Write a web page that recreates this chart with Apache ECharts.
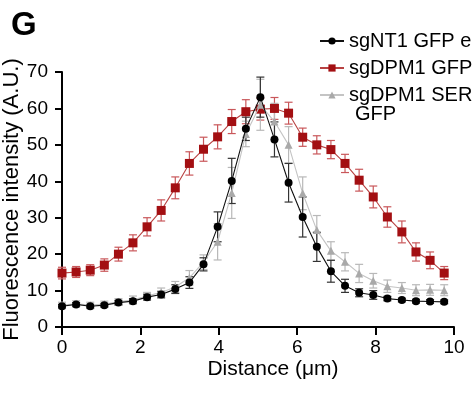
<!DOCTYPE html>
<html><head><meta charset="utf-8">
<script src="https://cdn.jsdelivr.net/npm/echarts@6/dist/echarts.min.js"></script>
<style>html,body{margin:0;padding:0;background:#fff}#c{width:472px;height:396px}</style>
</head><body><div id="c"></div>
<script>
const distance = [0.00,0.36,0.72,1.08,1.44,1.81,2.17,2.53,2.89,3.25,3.61,3.97,4.33,4.69,5.06,5.42,5.78,6.14,6.50,6.86,7.22,7.58,7.94,8.30,8.67,9.03,9.39,9.75];
const ntMean  = [5.7,6.2,5.7,6.0,6.7,7.1,8.2,8.9,10.4,12.2,17.2,27.5,40.1,54.4,63.1,51.5,39.6,30.2,22.0,15.3,11.3,9.4,8.8,7.8,7.4,7.1,7.0,6.9];
const ntErr   = [0.5,0.5,0.5,0.5,0.6,0.7,0.8,0.9,1.2,1.6,1.8,4.1,6.2,3.2,5.5,4.8,5.3,5.5,4.0,3.0,1.8,1.1,1.2,0.6,0.5,0.5,0.5,0.5];
const dpmMean = [14.8,15.1,15.6,17.0,20.0,23.1,27.5,32.0,38.2,44.9,48.8,52.2,56.4,59.1,59.8,60.0,58.7,52.1,50.0,48.7,44.9,40.3,35.7,30.2,26.1,20.6,18.3,14.8];
const dpmErr  = [1.6,1.5,1.5,1.7,1.9,2.2,2.5,2.9,3.0,3.2,3.3,3.3,3.3,3.3,3.0,3.0,3.0,2.5,2.5,2.5,2.5,3.0,3.0,2.8,3.0,2.5,2.3,1.8];
const serMean = [6.0,6.4,6.0,6.3,6.9,7.5,8.5,9.5,11.0,13.5,17.8,23.4,36.8,53.0,61.0,56.4,50.0,36.7,26.6,20.9,17.9,14.7,12.7,11.2,10.7,10.1,10.2,10.1];
const serErr  = [0.8,0.8,0.8,0.8,0.9,1.0,1.0,1.2,1.5,2.0,2.0,5.0,7.0,3.5,7.0,5.0,5.0,4.5,4.0,2.5,2.5,2.5,2.0,1.7,1.5,1.5,1.5,1.5];
const xTicks = [0,2,4,6,8,10];
const yTicks = [0,10,20,30,40,50,60,70];
const seriesNames = ['sgNT1 GFP empty','sgDPM1 GFP empty','sgDPM1 SERINC5'];
const legendSecondLine = 'GFP';

const FONT = 'Liberation Sans, Arial, sans-serif';
function pts(m){ return distance.map((x,i)=>[x,m[i]]); }
function errs(m,e){ return distance.map((x,i)=>[x,m[i]-e[i],m[i]+e[i]]); }
function errSeries(m,e,color,z){
  return {
    type:'custom', silent:true, z:z, data:errs(m,e),
    renderItem:function(params,api){
      const x=api.value(0), lo=api.value(1), hi=api.value(2);
      const a=api.coord([x,hi]), b=api.coord([x,lo]);
      const w=4;
      const st={stroke:color,lineWidth:1.2};
      return {type:'group',children:[
        {type:'line',shape:{x1:a[0],y1:a[1],x2:b[0],y2:b[1]},style:st},
        {type:'line',shape:{x1:a[0]-w,y1:a[1],x2:a[0]+w,y2:a[1]},style:st},
        {type:'line',shape:{x1:b[0]-w,y1:b[1],x2:b[0]+w,y2:b[1]},style:st}
      ]};
    }
  };
}
const chart = echarts.init(document.getElementById('c'),null,{renderer:'canvas'});
chart.setOption({
  animation:false,
  title:{text:'G',left:6,top:4,textStyle:{fontFamily:FONT,fontSize:33,fontWeight:'bold',color:'#000'}},
  grid:{left:62,right:18,top:72,bottom:69,containLabel:false,outerBoundsMode:'none'},
  legend:{
    orient:'vertical', left:314, top:25, itemWidth:24, itemHeight:9, itemGap:5,
    textStyle:{fontFamily:FONT,fontSize:20,color:'#000',lineHeight:22},
    data:seriesNames
  },
  graphic:[{type:'text',left:355,top:104,style:{text:legendSecondLine,fontFamily:FONT,fontSize:20,fill:'#000'}}],
  xAxis:{type:'value',min:0,max:10,interval:2,
    name:'Distance (\u03bcm)',nameLocation:'middle',nameGap:32,nameMoveOverlap:false,
    nameTextStyle:{fontFamily:FONT,fontSize:21,color:'#000',padding:[0,0,0,30]},
    axisLine:{lineStyle:{color:'#000',width:2}},
    axisTick:{length:8,lineStyle:{color:'#000',width:2}},
    axisLabel:{fontFamily:FONT,fontSize:19,color:'#000',margin:11,
      formatter:v=>xTicks.indexOf(v)>=0?String(v):''},
    splitLine:{show:false}},
  yAxis:{type:'value',min:0,max:70,interval:10,
    name:'Fluorescence intensity (A.U.)',nameLocation:'middle',nameGap:39,nameMoveOverlap:false,
    nameTextStyle:{fontFamily:FONT,fontSize:22,color:'#000'},
    axisLine:{show:true,lineStyle:{color:'#000',width:2}},
    axisTick:{show:true,length:7,lineStyle:{color:'#000',width:2}},
    axisLabel:{fontFamily:FONT,fontSize:19,color:'#000',margin:14,
      formatter:v=>yTicks.indexOf(v)>=0?String(v):''},
    splitLine:{show:false}},
  series:[
    errSeries(dpmMean,dpmErr,'#c9575a',2),
    errSeries(serMean,serErr,'#b8b8b8',2),
    errSeries(ntMean,ntErr,'#333333',3),
    {name:seriesNames[1],type:'line',data:pts(dpmMean),z:4,symbol:'rect',symbolSize:9,
      lineStyle:{color:'#b84242',width:1.1},itemStyle:{color:'#a30f12'}},
    {name:seriesNames[2],type:'line',data:pts(serMean),z:5,symbol:'triangle',symbolSize:8,
      lineStyle:{color:'#c4c4c4',width:1.1},itemStyle:{color:'#a9a9a9'}},
    {name:seriesNames[0],type:'line',data:pts(ntMean),z:6,symbol:'circle',symbolSize:8,
      lineStyle:{color:'#111',width:1.1},itemStyle:{color:'#000'}}
  ]
});
</script></body></html>
